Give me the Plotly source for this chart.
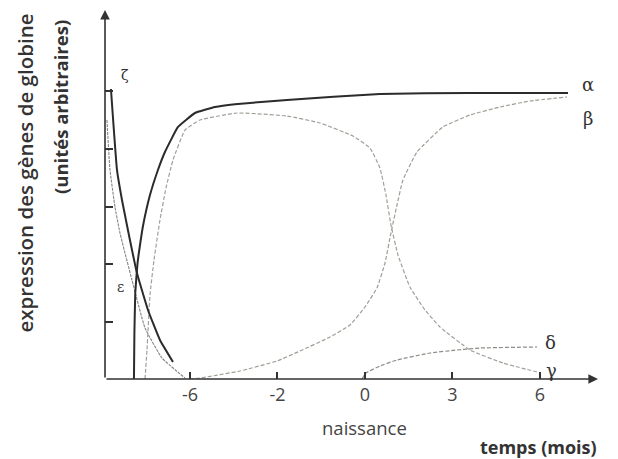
import plotly.graph_objects as go

# x positions are on an equally spaced tick scale: tick index 0..4 -> -6, -2, 0, 3, 6 months
tick_pos = [0, 1, 2, 3, 4]
tick_text = ["-6", "-2", "0", "3", "6"]

zeta_x = [-0.903, -0.834, -0.777, -0.686, -0.606, -0.48, -0.343, -0.194]
zeta_y = [5.043, 3.635, 3.113, 2.417, 1.843, 1.2, 0.678, 0.296]

eps_x = [-0.949, -0.914, -0.857, -0.8, -0.663, -0.514, -0.32, -0.057]
eps_y = [4.504, 3.635, 2.991, 2.539, 1.722, 0.887, 0.365, 0.017]

alpha_x = [-0.64, -0.635, -0.625, -0.6, -0.571, -0.537, -0.457, -0.366, -0.286, -0.137,
           0.057, 0.286, 0.514, 1.109, 2.171, 3.2, 4.32]
alpha_y = [0.0, 0.8, 1.5, 2.0, 2.33, 2.661, 3.2, 3.635, 3.948, 4.383,
           4.626, 4.73, 4.78, 4.852, 4.957, 4.974, 4.974]

gamma_x = [-0.514, -0.491, -0.457, -0.411, -0.343, -0.274, -0.194, -0.057, 0.114,
           0.537, 1.109, 1.486, 1.863, 2.057, 2.171, 2.24, 2.297, 2.377, 2.514,
           2.686, 2.857, 3.2, 3.577, 3.966]
gamma_y = [0.0, 0.504, 1.461, 2.07, 2.765, 3.322, 3.809, 4.33, 4.504,
           4.626, 4.574, 4.452, 4.226, 4.017, 3.67, 3.2, 2.678, 2.157, 1.6,
           1.2, 0.904, 0.504, 0.278, 0.122]

beta_x = [0.0, 0.114, 0.571, 0.994, 1.257, 1.6, 1.829, 2.0, 2.137, 2.229, 2.297,
          2.366, 2.434, 2.594, 2.891, 3.2, 3.543, 3.886, 4.309]
beta_y = [0.0, 0.017, 0.139, 0.313, 0.487, 0.73, 0.939, 1.252, 1.583, 2.017, 2.539,
          3.026, 3.461, 3.948, 4.383, 4.591, 4.73, 4.835, 4.904]

delta_x = [1.966, 2.011, 2.171, 2.366, 2.743, 3.051, 3.314, 3.966]
delta_y = [0.0, 0.104, 0.226, 0.33, 0.452, 0.504, 0.539, 0.557]

labels = ["α", "β", "δ", "γ", "ε", "ζ"]
label_x = [4.549, 4.549, 4.125, 4.13, -0.789, -0.743]
label_y = [5.13, 4.539, 0.64, 0.15, 1.6, 5.287]

y_ticks = [1, 2, 3, 4, 5]

X_MIN, X_MAX = -0.971, 4.686
Y_MIN, Y_MAX = 0.0, 6.452

fig = go.Figure()

def add(x, y, color, width, dash="solid", smooth=0.35):
    fig.add_trace(go.Scatter(x=x, y=y, mode="lines",
                             line=dict(color=color, width=width, dash=dash,
                                       shape="spline", smoothing=smooth),
                             hoverinfo="skip", showlegend=False))

add(eps_x, eps_y, "#858585", 1.1, "3px,1px")
add(gamma_x, gamma_y, "#a0a09a", 1.2, "4px,2px")
add(beta_x, beta_y, "#9aa092", 1.2, "4px,2px")
add(delta_x, delta_y, "#8e8e88", 1.2, "4px,2px")
add(zeta_x, zeta_y, "#2b2b2b", 2.0)
add(alpha_x, alpha_y, "#2b2b2b", 2.0, smooth=0.3)

for t, lx, ly in zip(labels, label_x, label_y):
    fig.add_annotation(x=lx, y=ly, text=t, showarrow=False,
                       font=dict(family="DejaVu Serif", size=18 if t not in ("ε", "ζ") else 14,
                                 color="#333333"))

# axis arrows
fig.add_annotation(x=4.663, y=0, ax=X_MIN, ay=0, xref="x", yref="y", axref="x", ayref="y",
                   text="", showarrow=True, arrowhead=2, arrowsize=1.2, arrowwidth=1.6,
                   arrowcolor="#333333")
fig.add_annotation(x=X_MIN, y=6.417, ax=X_MIN, ay=0, xref="x", yref="y", axref="x", ayref="y",
                   text="", showarrow=True, arrowhead=2, arrowsize=1.2, arrowwidth=1.6,
                   arrowcolor="#333333")

# axis titles
fig.add_annotation(xref="paper", yref="paper", x=-0.1616, y=0.989, text="expression des gènes de globine",
                   textangle=-90, showarrow=False, xanchor="center", yanchor="top",
                   font=dict(family="Open Sans", size=20.5, color="#333333", weight=600))
fig.add_annotation(xref="paper", yref="paper", x=-0.0909, y=0.973, text="(unités arbitraires)",
                   textangle=-90, showarrow=False, xanchor="center", yanchor="top",
                   font=dict(family="Open Sans", size=18.5, color="#333333", weight="bold"))
fig.add_annotation(xref="x", yref="paper", x=2, y=-0.132, text="naissance", showarrow=False,
                   xanchor="center", yanchor="middle",
                   font=dict(family="Open Sans", size=18.5, color="#444444"))
fig.add_annotation(xref="paper", yref="paper", x=0.875, y=-0.183, text="temps (mois)", showarrow=False,
                   xanchor="center", yanchor="middle",
                   font=dict(family="Open Sans", size=18, color="#333333", weight="bold"))

fig.update_layout(
    width=618, height=459,
    margin=dict(l=105, r=18, t=8, b=80),
    paper_bgcolor="white", plot_bgcolor="white",
    xaxis=dict(range=[X_MIN, X_MAX], tickvals=tick_pos, ticktext=tick_text,
               ticks="inside", ticklen=7, tickwidth=1.5, tickcolor="#333333",
               showgrid=False, zeroline=False, showline=False,
               tickfont=dict(family="Open Sans", size=18, color="#444444"),
               ticklabelstandoff=3),
    yaxis=dict(range=[Y_MIN, Y_MAX], tickvals=y_ticks, ticks="inside", ticklen=8,
               tickwidth=1.5, tickcolor="#333333", showticklabels=False,
               showgrid=False, zeroline=False, showline=False),
)

fig.write_html("out.html", config={"displayModeBar": False},
               post_script="document.body.style.margin='0';document.body.style.overflow='hidden';")
